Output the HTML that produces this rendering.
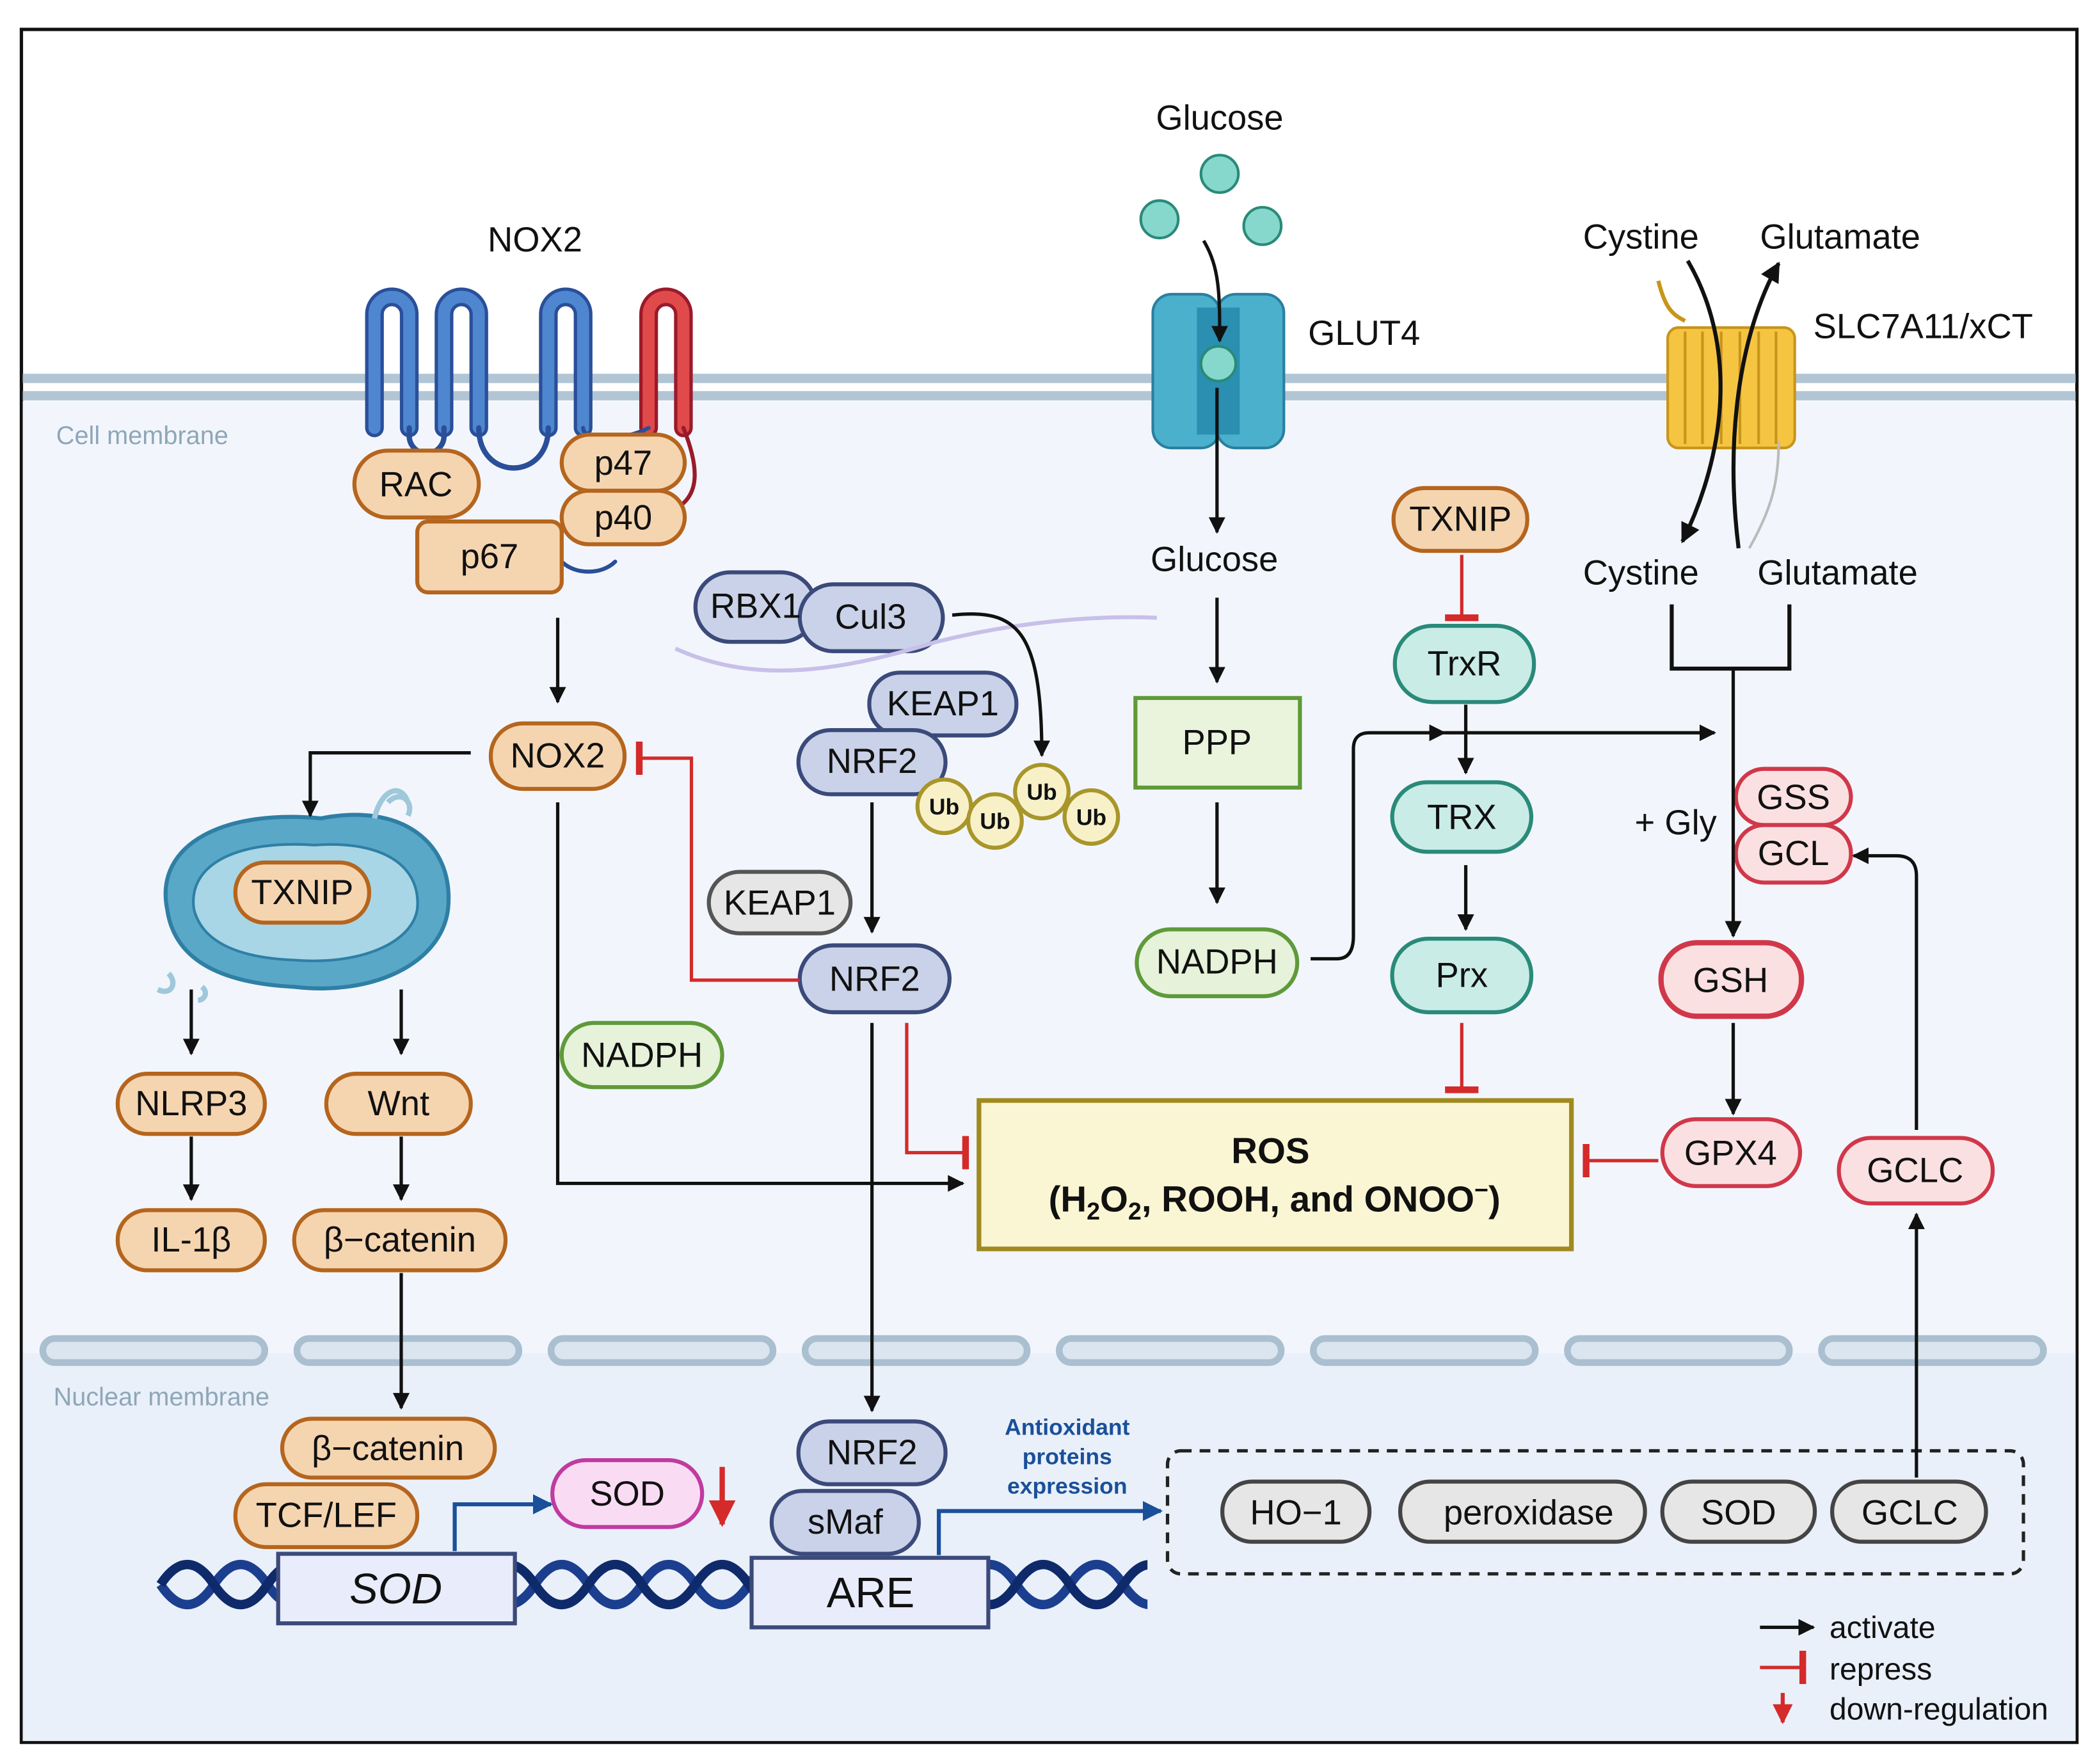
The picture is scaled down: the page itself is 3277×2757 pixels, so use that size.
<!DOCTYPE html>
<html><head><meta charset="utf-8"><style>
html,body{margin:0;padding:0;background:#fff}
svg{display:block}
text{font-family:"Liberation Sans",sans-serif}
</style></head><body>
<svg width="3277" height="2757" viewBox="0 0 1568 1319.2" xmlns="http://www.w3.org/2000/svg">
<defs>
<marker id="a" viewBox="0 0 10 10" refX="9" refY="5" markerWidth="5" markerHeight="5" orient="auto"><path d="M0,0L10,5L0,10z" fill="#111"/></marker>
<marker id="ab" viewBox="0 0 10 10" refX="9" refY="5" markerWidth="5" markerHeight="5" orient="auto"><path d="M0,0L10,5L0,10z" fill="#1a4f9a"/></marker>
<marker id="ar" viewBox="0 0 10 10" refX="9" refY="5" markerWidth="5" markerHeight="5" orient="auto"><path d="M0,0L10,5L0,10z" fill="#d42a2a"/></marker>
<marker id="t" viewBox="0 0 4 20" refX="2" refY="10" markerWidth="4" markerHeight="10" orient="auto"><path d="M2,0V20" stroke="#d42a2a" stroke-width="4"/></marker>
<clipPath id="dc"><rect x="115" y="1140" width="743" height="100"/></clipPath>
</defs>
<rect x="16" y="22" width="1537" height="1281" fill="#fff" stroke="#111" stroke-width="2.5"/>
<rect x="17" y="300" width="1535" height="1002" fill="#f2f6fc"/>
<rect x="17" y="1012" width="1535" height="290" fill="#e9f0f9"/>
<line x1="17" y1="283" x2="1552" y2="283" stroke="#b2c5d4" stroke-width="7"/>
<line x1="17" y1="296" x2="1552" y2="296" stroke="#b2c5d4" stroke-width="7"/>
<text x="42" y="332" font-size="19" fill="#8fa6b8">Cell membrane</text>
<g fill="#dbe5ef" stroke="#aabfcf" stroke-width="5">
<rect x="32" y="1001" width="166" height="18" rx="9"/><rect x="222" y="1001" width="166" height="18" rx="9"/>
<rect x="412" y="1001" width="166" height="18" rx="9"/><rect x="602" y="1001" width="166" height="18" rx="9"/>
<rect x="792" y="1001" width="166" height="18" rx="9"/><rect x="982" y="1001" width="166" height="18" rx="9"/>
<rect x="1172" y="1001" width="166" height="18" rx="9"/><rect x="1362" y="1001" width="166" height="18" rx="9"/>
</g>
<text x="40" y="1051" font-size="19" fill="#8fa6b8">Nuclear membrane</text>

<text x="400" y="188" font-size="26" text-anchor="middle" fill="#111">NOX2</text>
<g fill="none" stroke-linecap="round">
<path d="M280,320V235a13,13 0 0 1 26,0V320M332,320V235a13,13 0 0 1 26,0V320M410,320V235a13,13 0 0 1 26,0V320" stroke="#2a4f99" stroke-width="14"/>
<path d="M280,320V235a13,13 0 0 1 26,0V320M332,320V235a13,13 0 0 1 26,0V320M410,320V235a13,13 0 0 1 26,0V320" stroke="#4f86d0" stroke-width="9"/>
<path d="M306,320v6a13,13 0 0 0 26,0v-6M358,320c0,40 52,40 52,0" stroke="#2a4f99" stroke-width="4"/>
<path d="M485,320V235a13,13 0 0 1 26,0V320" stroke="#9a1a2a" stroke-width="14"/>
<path d="M485,320V235a13,13 0 0 1 26,0V320" stroke="#e04a4a" stroke-width="9"/>
<path d="M436,320c0,10 30,10 49,0M420,420c10,10 30,10 40,0" stroke="#2a4f99" stroke-width="3"/>
<path d="M511,320c12,30 12,50 -5,60" stroke="#9a1a2a" stroke-width="3"/>
</g>
<g font-size="26" text-anchor="middle" fill="#111">
<g fill="#f5d5b0" stroke="#b5651d" stroke-width="3">
<rect x="265" y="337" width="93" height="50" rx="25"/>
<rect x="312" y="390" width="108" height="53" rx="8"/>
<rect x="420" y="325" width="92" height="42" rx="21"/>
<rect x="420" y="367" width="92" height="40" rx="20"/>
</g>
<text x="311" y="371">RAC</text><text x="366" y="425">p67</text><text x="466" y="355">p47</text><text x="466" y="396">p40</text>

<path d="M125,680 C115,630 170,605 240,612 C300,600 340,630 335,680 C330,720 280,745 220,738 C160,735 130,715 125,680z" fill="#5aa8c8" stroke="#2f7fa5" stroke-width="3"/>
<path d="M145,680 C140,645 180,628 235,632 C290,628 315,650 312,680 C308,705 270,722 220,718 C170,716 150,700 145,680z" fill="#a8d6e6" stroke="#2f7fa5" stroke-width="2"/>
<path d="M280,612 C285,590 300,585 305,600 M290,600 c10,-10 20,0 15,10" stroke="#9fc8da" stroke-width="4" fill="none"/>
<path d="M118,740 c10,5 15,-5 8,-12 M148,748 c5,0 8,-6 3,-10" stroke="#9fc8da" stroke-width="4" fill="none"/>

<g stroke-width="3">
<g fill="#f5d5b0" stroke="#b5651d">
<rect x="367" y="541" width="100" height="49" rx="24"/>
<rect x="176" y="645" width="100" height="45" rx="22"/>
<rect x="88" y="803" width="110" height="45" rx="22"/>
<rect x="244" y="803" width="108" height="45" rx="22"/>
<rect x="88" y="905" width="110" height="45" rx="22"/>
<rect x="220" y="905" width="158" height="45" rx="22"/>
<rect x="211" y="1061" width="159" height="44" rx="22"/>
<rect x="176" y="1110" width="136" height="47" rx="23"/>
<rect x="1042" y="365" width="100" height="47" rx="23"/>
</g>
<g fill="#c9d2e8" stroke="#3b4a7a">
<rect x="520" y="428" width="90" height="52" rx="26"/>
<rect x="598" y="437" width="107" height="50" rx="25"/>
<rect x="650" y="503" width="110" height="47" rx="23"/>
<rect x="597" y="546" width="110" height="48" rx="24"/>
<rect x="598" y="707" width="112" height="50" rx="25"/>
<rect x="597" y="1063" width="110" height="47" rx="23"/>
<rect x="577" y="1115" width="110" height="47" rx="23"/>
</g>
<g fill="#e6f2d9" stroke="#5f9a3a">
<rect x="420" y="765" width="120" height="48" rx="24"/>
<rect x="850" y="695" width="120" height="50" rx="25"/>
<rect x="849" y="522" width="123" height="67" fill="#eaf4dc"/>
</g>
<g fill="#c9ece6" stroke="#2a8a7a">
<rect x="1043" y="468" width="104" height="57" rx="28"/>
<rect x="1041" y="585" width="104" height="52" rx="26"/>
<rect x="1041" y="702" width="104" height="55" rx="27"/>
</g>
<g fill="#fbe0e2" stroke="#d0384a">
<rect x="1298" y="575" width="86" height="42" rx="21"/>
<rect x="1298" y="617" width="86" height="43" rx="21"/>
<rect x="1242" y="705" width="105" height="55" rx="27" stroke-width="4"/>
<rect x="1243" y="837" width="103" height="50" rx="25"/>
<rect x="1375" y="851" width="115" height="49" rx="24"/>
</g>
<rect x="530" y="652" width="106" height="46" rx="23" fill="#e6e6e6" stroke="#555"/>
<rect x="413" y="1092" width="112" height="50" rx="25" fill="#f9dcf3" stroke="#c03aa0"/>
<g fill="#e6e6e6" stroke="#444">
<rect x="914" y="1108" width="110" height="45" rx="22"/>
<rect x="1047" y="1108" width="183" height="45" rx="22"/>
<rect x="1243" y="1108" width="114" height="45" rx="22"/>
<rect x="1370" y="1108" width="115" height="45" rx="22"/>
</g>
</g>
<text x="417" y="574">NOX2</text><text x="226" y="676">TXNIP</text>
<text x="143" y="834">NLRP3</text><text x="298" y="834">Wnt</text>
<text x="143" y="936">IL-1β</text><text x="299" y="936">β−catenin</text>
<text x="290" y="1092">β−catenin</text><text x="244" y="1142">TCF/LEF</text>
<text x="1092" y="397">TXNIP</text>
<text x="565" y="462">RBX1</text><text x="651" y="470">Cul3</text><text x="705" y="535">KEAP1</text>
<text x="652" y="578">NRF2</text><text x="654" y="741">NRF2</text><text x="652" y="1095">NRF2</text><text x="632" y="1147">sMaf</text>
<text x="480" y="798">NADPH</text><text x="910" y="728">NADPH</text><text x="910" y="564">PPP</text>
<text x="1095" y="505">TrxR</text><text x="1093" y="620">TRX</text><text x="1093" y="738">Prx</text>
<text x="1341" y="605">GSS</text><text x="1341" y="647">GCL</text><text x="1294" y="742">GSH</text>
<text x="1294" y="871">GPX4</text><text x="1432" y="884">GCLC</text>
<text x="583" y="684">KEAP1</text><text x="469" y="1126">SOD</text>
<text x="969" y="1140">HO−1</text><text x="1143" y="1140">peroxidase</text><text x="1300" y="1140">SOD</text><text x="1428" y="1140">GCLC</text>

<g fill="#f8f1c8" stroke="#a8962a" stroke-width="3">
<circle cx="706" cy="603" r="20"/><circle cx="744" cy="614" r="20"/><circle cx="779" cy="592" r="20"/><circle cx="816" cy="611" r="20"/>
</g>
<g font-size="17" font-weight="bold"><text x="706" y="609">Ub</text><text x="744" y="620">Ub</text><text x="779" y="598">Ub</text><text x="816" y="617">Ub</text></g>
<path d="M505,485 C560,510 620,505 700,480 C760,465 820,460 865,462" stroke="#c8c0e8" stroke-width="3" fill="none"/>

<text x="912" y="97">Glucose</text>
<g fill="#86d8cc" stroke="#2a8a7a" stroke-width="2"><circle cx="912" cy="130" r="14"/><circle cx="867" cy="164" r="14"/><circle cx="944" cy="169" r="14"/></g>
<rect x="862" y="220" width="50" height="115" rx="14" fill="#4bb0cc" stroke="#2a7f9f" stroke-width="2"/>
<rect x="910" y="220" width="50" height="115" rx="14" fill="#4bb0cc" stroke="#2a7f9f" stroke-width="2"/>
<rect x="895" y="230" width="32" height="95" fill="#2a8fb0"/>
<circle cx="911" cy="272" r="13" fill="#86d8cc" stroke="#2a8a7a" stroke-width="2"/>
<text x="1020" y="258">GLUT4</text>
<text x="908" y="427">Glucose</text>

<text x="1227" y="186">Cystine</text><text x="1376" y="186">Glutamate</text>
<text x="1227" y="437">Cystine</text><text x="1374" y="437">Glutamate</text>
<text x="1438" y="253">SLC7A11/xCT</text>
<rect x="1247" y="245" width="95" height="90" rx="8" fill="#f5c542" stroke="#c8951a" stroke-width="2"/>
<g stroke="#c8951a" stroke-width="2"><line x1="1260" y1="248" x2="1260" y2="332"/><line x1="1273" y1="248" x2="1273" y2="332"/><line x1="1287" y1="248" x2="1287" y2="332"/><line x1="1301" y1="248" x2="1301" y2="332"/><line x1="1315" y1="248" x2="1315" y2="332"/><line x1="1328" y1="248" x2="1328" y2="332"/></g>
<path d="M1240,210 c5,20 10,25 20,30" stroke="#c8951a" stroke-width="3" fill="none"/>
<path d="M1262,195 C1300,260 1290,340 1258,405" stroke="#111" stroke-width="3" fill="none" marker-end="url(#a)"/>
<path d="M1300,410 C1290,330 1300,250 1330,197" stroke="#111" stroke-width="3" fill="none" marker-end="url(#a)"/>
<path d="M1308,410 C1325,380 1330,360 1330,330" stroke="#bbb" stroke-width="2" fill="none"/>

<rect x="732" y="823" width="443" height="111" fill="#faf6d4" stroke="#a08a20" stroke-width="3.5"/>
<text x="950" y="870" font-weight="bold" font-size="27">ROS</text>
<text x="953" y="906" font-weight="bold" font-size="27">(H<tspan font-size="18" dy="6">2</tspan><tspan dy="-6">O</tspan><tspan font-size="18" dy="6">2</tspan><tspan dy="-6">, ROOH, and ONOO</tspan><tspan font-size="18" dy="-10">−</tspan><tspan dy="10">)</tspan></text>

<rect x="873" y="1085" width="640" height="92" rx="10" fill="none" stroke="#222" stroke-width="2.5" stroke-dasharray="8,6"/>
<text font-size="17" font-weight="bold" fill="#1a4f9a"><tspan x="798" y="1073">Antioxidant</tspan><tspan x="798" y="1095">proteins</tspan><tspan x="798" y="1117">expression</tspan></text>

<g fill="none" stroke-width="7" clip-path="url(#dc)">
<path d="M120,1185 q20,30 40,0 t40,0 t40,0 t40,0 t40,0 t40,0 t40,0 t40,0 t40,0 t40,0 t40,0 t40,0 t40,0 t40,0 t40,0 t40,0 t40,0 t40,0 t40,0" stroke="#1c3e8e"/>
<path d="M120,1185 q20,-30 40,0 t40,0 t40,0 t40,0 t40,0 t40,0 t40,0 t40,0 t40,0 t40,0 t40,0 t40,0 t40,0 t40,0 t40,0 t40,0 t40,0 t40,0 t40,0" stroke="#0f2a6a"/>
</g>
<rect x="208" y="1162" width="177" height="52" fill="#e9ecfb" stroke="#3b4a7a" stroke-width="3"/>
<text x="296" y="1199" font-size="32" font-style="italic">SOD</text>
<rect x="562" y="1165" width="177" height="52" fill="#e9ecfb" stroke="#3b4a7a" stroke-width="3"/>
<text x="651" y="1202" font-size="32">ARE</text>
<text x="1253" y="624">+ Gly</text>
</g>

<g fill="none" stroke="#111" stroke-width="2.5" marker-end="url(#a)">
<path d="M417,462V525"/>
<path d="M352,563H232V610"/>
<path d="M417,600V885H720"/>
<path d="M652,600V697"/>
<path d="M712,460C760,455 779,470 779,565"/>
<path d="M652,765V1055"/>
<path d="M143,740V788"/><path d="M300,740V788"/><path d="M143,850V897"/><path d="M300,850V897"/><path d="M300,952V1053"/>
<path d="M900,180C912,200 912,220 912,255"/>
<path d="M910,290V398"/><path d="M910,447V510"/><path d="M910,600V675"/>
<path d="M980,717H1000Q1012,717 1012,700V560Q1012,548 1024,548H1080"/>
<path d="M1080,548H1282"/>
<path d="M1096,527V578"/><path d="M1096,647V695"/>
<path d="M1296,500V700"/>
<path d="M1433,845V655Q1433,640 1418,640H1386"/>
<path d="M1296,765V833"/>
<path d="M1433,1105V908"/>
<path d="M1316,1217H1356"/>
</g>
<path d="M1250,452V500H1338V452" fill="none" stroke="#111" stroke-width="3"/>
<g fill="none" stroke="#d42a2a" stroke-width="2.5" marker-end="url(#t)">
<path d="M598,733H517V567H478"/>
<path d="M678,765V862H722"/>
<path d="M1093,415V462"/>
<path d="M1093,765V815"/>
<path d="M1240,868H1186"/>
<path d="M1316,1247H1348"/>
</g>
<path d="M540,1097V1140" stroke="#d42a2a" stroke-width="4" marker-end="url(#ar)"/>
<path d="M1333,1266V1288" stroke="#d42a2a" stroke-width="3" marker-end="url(#ar)"/>
<g fill="none" stroke="#1a4f9a" stroke-width="3" marker-end="url(#ab)">
<path d="M340,1160V1125H412"/>
<path d="M702,1163V1130H868"/>
</g>
<g font-size="23" fill="#111"><text x="1368" y="1225">activate</text><text x="1368" y="1256">repress</text><text x="1368" y="1286">down-regulation</text></g>
</svg>
</body></html>
